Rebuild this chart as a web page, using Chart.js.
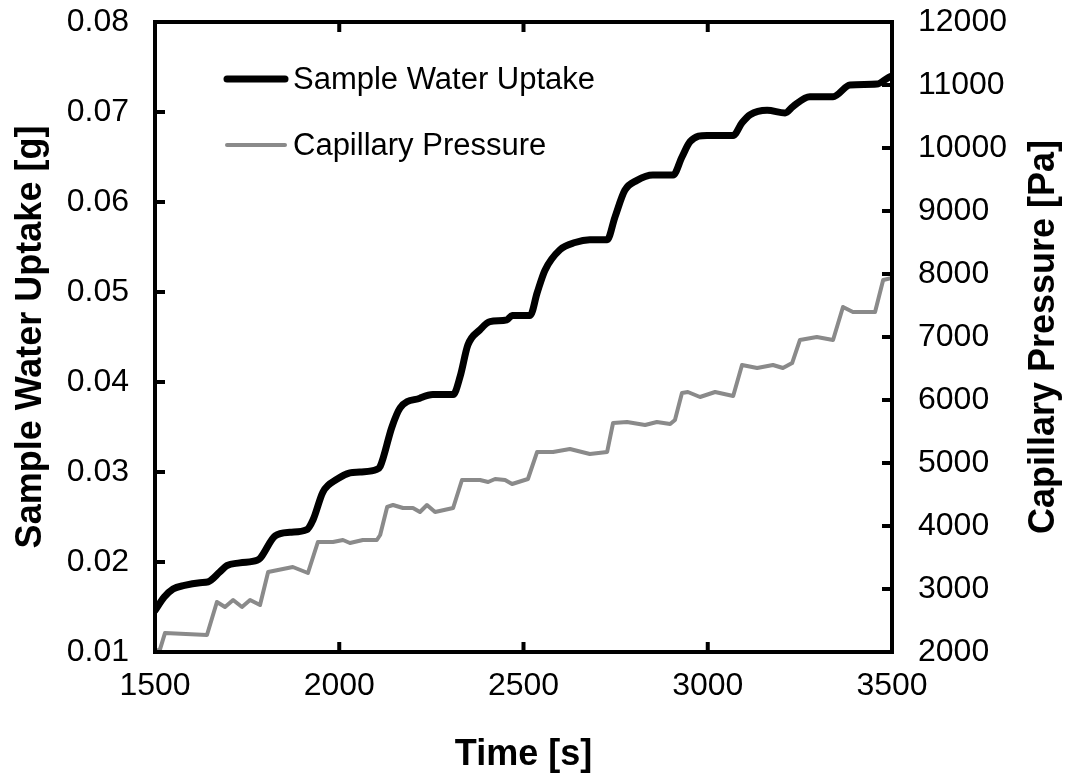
<!DOCTYPE html>
<html>
<head>
<meta charset="utf-8">
<script src="https://cdn.jsdelivr.net/npm/chart.js@4/dist/chart.umd.min.js"></script>
<style>
  html, body { margin: 0; padding: 0; background: #fff; }
  #wrap { width: 1072px; height: 781px; }
</style>
</head>
<body>
<div id="wrap"><canvas id="main-chart" width="1072" height="781"></canvas></div>
<script>
// ── data ────────────────────────────────────────────────
const uptakeTime = [1500, 1525, 1549, 1580, 1622, 1644, 1676, 1695, 1730, 1777, 1785, 1826, 1866, 1912, 1929,
  1956, 1994, 2029, 2056, 2102, 2111, 2143, 2165, 2219, 2254, 2309, 2328, 2349, 2382, 2409, 2455, 2469, 2518,
  2537, 2558, 2599, 2640, 2680, 2727, 2748, 2775, 2808, 2851, 2906, 2930, 2952, 2998, 3069, 3093, 3115, 3161,
  3210, 3231, 3277, 3340, 3386, 3459, 3489, 3500];
const uptakeValue = [0.0146, 0.0161, 0.0170, 0.0174, 0.0177, 0.0178, 0.0189, 0.0196, 0.0199, 0.0202, 0.0204,
  0.0229, 0.0233, 0.0236, 0.0247, 0.0278, 0.0292, 0.0299, 0.0300, 0.0303, 0.0306, 0.0350, 0.0371, 0.0382,
  0.0386, 0.0386, 0.0406, 0.0441, 0.0458, 0.0467, 0.0469, 0.0474, 0.0474, 0.0499, 0.0524, 0.0547, 0.0555,
  0.0558, 0.0558, 0.0583, 0.0613, 0.0624, 0.0630, 0.0630, 0.0650, 0.0667, 0.0674, 0.0674, 0.0688, 0.0697,
  0.0702, 0.0699, 0.0706, 0.0717, 0.0717, 0.0730, 0.0731, 0.0738, 0.0740];

const pressureTime = [1500, 1514, 1527, 1641, 1668, 1690, 1712, 1736, 1758, 1785, 1807, 1874, 1915, 1942, 1983,
  2010, 2029, 2064, 2102, 2111, 2130, 2146, 2173, 2200, 2219, 2238, 2260, 2309, 2333, 2382, 2404, 2423, 2450,
  2469, 2512, 2537, 2580, 2626, 2680, 2727, 2743, 2781, 2830, 2862, 2898, 2911, 2930, 2946, 2979, 3020, 3069,
  3093, 3134, 3177, 3204, 3229, 3250, 3296, 3340, 3367, 3394, 3454, 3476, 3500];
const pressureValue = [2000, 2050, 2300, 2270, 2794, 2714, 2825, 2714, 2825, 2746, 3270, 3349, 3254, 3746, 3746,
  3778, 3730, 3778, 3778, 3857, 4302, 4333, 4286, 4286, 4222, 4333, 4222, 4286, 4730, 4730, 4698, 4746, 4730,
  4667, 4746, 5175, 5175, 5222, 5143, 5175, 5635, 5651, 5603, 5651, 5619, 5683, 6111, 6127, 6048, 6127, 6063,
  6556, 6508, 6556, 6508, 6587, 6952, 7000, 6952, 7476, 7397, 7397, 7905, 7937];

const timeTicks = [1500, 2000, 2500, 3000, 3500];
const uptakeTicks = [0.01, 0.02, 0.03, 0.04, 0.05, 0.06, 0.07, 0.08];
const pressureTicks = [2000, 3000, 4000, 5000, 6000, 7000, 8000, 9000, 10000, 11000, 12000];

// ── style ───────────────────────────────────────────────
const FONT = '"Liberation Sans", Arial, sans-serif';
const BLACK = '#000000';
const GREY = '#8a8a8a';
const TICK_FONT = { family: FONT, size: 32 };
const TITLE_FONT = { family: FONT, size: 36, weight: 'bold' };

const toPoints = (xs, ys) => xs.map((x, i) => ({ x, y: ys[i] }));
const noYPad = s => { s.paddingTop = 0; s.paddingBottom = 0; };

// frame, inward ticks, legend and right title
const framePlugin = {
  id: 'frame',
  afterDraw(chart) {
    const { ctx, chartArea: a, scales } = chart;
    ctx.save();
    ctx.strokeStyle = BLACK;
    ctx.lineWidth = 4;
    ctx.lineCap = 'butt';
    ctx.strokeRect(a.left, a.top, a.right - a.left, a.bottom - a.top);

    const tl = 10;
    ctx.beginPath();
    timeTicks.forEach(v => {
      const x = scales.x.getPixelForValue(v);
      ctx.moveTo(x, a.bottom); ctx.lineTo(x, a.bottom - tl);
      ctx.moveTo(x, a.top); ctx.lineTo(x, a.top + tl);
    });
    uptakeTicks.forEach(v => {
      const y = scales.y.getPixelForValue(v);
      ctx.moveTo(a.left, y); ctx.lineTo(a.left + tl, y);
    });
    pressureTicks.forEach(v => {
      const y = scales.y2.getPixelForValue(v);
      ctx.moveTo(a.right, y); ctx.lineTo(a.right - tl, y);
    });
    ctx.stroke();

    // legend
    ctx.font = '31px ' + FONT;
    ctx.textAlign = 'left';
    ctx.textBaseline = 'middle';
    chart.data.datasets.forEach((ds, i) => {
      const y = a.top + 57 + i * 66;
      ctx.beginPath();
      ctx.strokeStyle = ds.borderColor;
      ctx.lineWidth = ds.borderWidth;
      ctx.lineCap = 'round';
      ctx.moveTo(a.left + 72, y);
      ctx.lineTo(a.left + 130, y);
      ctx.stroke();
      ctx.fillStyle = BLACK;
      ctx.fillText(ds.label, a.left + 138, y + 1);
    });

    // right axis title, read bottom to top
    ctx.translate(1044, (a.top + a.bottom) / 2);
    ctx.rotate(-Math.PI / 2);
    ctx.font = 'bold 36px ' + FONT;
    ctx.textAlign = 'center';
    ctx.fillText('Capillary Pressure [Pa]', 0, 0);
    ctx.restore();
  }
};

new Chart(document.getElementById('main-chart'), {
  type: 'line',
  data: {
    datasets: [
      {
        label: 'Sample Water Uptake',
        data: toPoints(uptakeTime, uptakeValue),
        borderColor: BLACK,
        borderWidth: 7,
        pointRadius: 0,
        cubicInterpolationMode: 'monotone',
        borderJoinStyle: 'round',
        borderCapStyle: 'round',
        yAxisID: 'y'
      },
      {
        label: 'Capillary Pressure',
        data: toPoints(pressureTime, pressureValue),
        borderColor: GREY,
        borderWidth: 4,
        pointRadius: 0,
        tension: 0,
        borderJoinStyle: 'round',
        yAxisID: 'y2'
      }
    ]
  },
  options: {
    responsive: false,
    animation: false,
    layout: { padding: { top: 22, left: 0, right: 0, bottom: 0 } },
    plugins: { legend: { display: false }, tooltip: { enabled: false } },
    scales: {
      x: {
        type: 'linear',
        min: 1500, max: 3500,
        afterBuildTicks: s => { s.ticks = timeTicks.map(v => ({ value: v })); },
        afterFit: s => { s.height = 129; s.paddingLeft = 0; s.paddingRight = 0; },
        grid: { display: false, drawTicks: false },
        border: { display: false },
        ticks: { color: BLACK, font: TICK_FONT, padding: 15, maxRotation: 0, callback: v => String(v) },
        title: { display: true, text: 'Time [s]', color: BLACK, font: TITLE_FONT, padding: { top: 0, bottom: 4 } }
      },
      y: {
        position: 'left',
        min: 0.01, max: 0.08,
        afterBuildTicks: s => { s.ticks = uptakeTicks.map(v => ({ value: v })); },
        afterFit: s => { s.width = 155; noYPad(s); },
        grid: { display: false, drawTicks: false },
        border: { display: false },
        ticks: { color: BLACK, font: TICK_FONT, padding: 26, callback: v => v.toFixed(2) },
        title: { display: true, text: 'Sample Water Uptake [g]', color: BLACK, font: TITLE_FONT, padding: { top: 9, bottom: 0 } }
      },
      y2: {
        position: 'right',
        min: 2000, max: 12000,
        afterBuildTicks: s => { s.ticks = pressureTicks.map(v => ({ value: v })); },
        afterFit: s => { s.width = 180; noYPad(s); },
        grid: { display: false, drawTicks: false },
        border: { display: false },
        ticks: { color: BLACK, font: TICK_FONT, padding: 26, callback: v => String(v) }
      }
    }
  },
  plugins: [framePlugin]
});
</script>
</body>
</html>
